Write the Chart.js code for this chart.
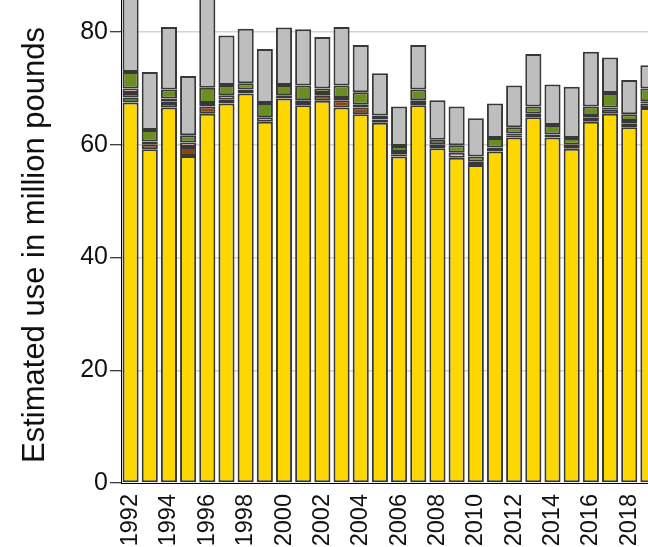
<!DOCTYPE html>
<html>
<head>
<meta charset="utf-8">
<script src="https://cdn.jsdelivr.net/npm/chart.js@4/dist/chart.umd.min.js"></script>
<style>
  html, body { margin: 0; padding: 0; overflow: hidden; background: #fff; width: 648px; height: 547px; }
  #wrap { position: absolute; left: 0; top: -15px; width: 658px; height: 562px; }
</style>
</head>
<body>
<div id="wrap"><canvas id="c"></canvas></div>
<script>
// Estimated use by year, million pounds, one array per stacked component
const years = ['1992','1993','1994','1995','1996','1997','1998','1999','2000','2001',
               '2002','2003','2004','2005','2006','2007','2008','2009','2010','2011',
               '2012','2013','2014','2015','2016','2017','2018','2019'];

const yellowUse = [67.5,59.2,66.6,58.0,65.5,67.3,69.1,64.1,68.2,67.0,67.8,66.6,65.4,63.9,57.9,67.0,59.4,57.7,56.4,58.8,61.3,64.9,61.3,59.3,64.1,65.5,63.1,66.5];
const greenUse  = [0.9,null,null,null,null,null,null,null,null,null,null,null,null,null,null,null,null,null,null,null,null,null,null,null,0.3,0.8,null,null];
const brownUse  = [0.8,0.9,0.8,1.6,1.3,0.7,null,null,null,null,0.9,1.3,1.2,null,null,null,null,null,null,null,null,null,null,null,0.4,null,0.7,0.8];
const blackUse  = [null,null,0.3,null,null,null,null,null,null,0.4,null,null,null,null,0.4,0.4,0.7,null,null,null,0.3,null,null,null,0.3,null,null,0.4];
const pinkUse   = [0.8,0.5,0.5,0.8,0.6,0.8,0.7,0.8,0.6,0.5,0.5,0.4,0.5,0.6,0.4,0.5,null,0.9,0.6,0.7,0.4,0.6,0.5,0.7,null,0.3,0.4,null];
const oliveUse  = [2.9,2.0,1.6,1.3,2.7,1.8,1.1,2.5,1.8,2.6,0.8,2.2,2.2,0.7,1.1,1.9,0.8,1.3,0.9,1.7,1.1,1.3,1.7,1.2,1.7,2.6,1.2,2.3];
const grayUse   = [14.6,10.3,11.1,10.5,17.9,8.8,9.7,9.6,10.2,10.0,9.1,10.4,8.4,7.5,7.0,7.9,7.0,6.9,6.8,6.1,7.4,9.3,7.2,9.1,9.7,6.3,6.1,4.1];

const yTicks = [0, 20, 40, 60, 80];
const yTitle = 'Estimated use in million pounds';

const FONT = 'Liberation Sans, Arial, Helvetica, sans-serif';

function layer(data, color) {
  return {
    data: data,
    backgroundColor: color,
    borderColor: '#383838',
    borderWidth: 2,
    borderSkipped: false,
    barPercentage: 0.84,
    categoryPercentage: 1.0
  };
}

// fixed axis sizes, no extra label padding around the plot area
function noPad(s) {
  s.paddingTop = 0; s.paddingBottom = 0; s.paddingLeft = 0; s.paddingRight = 0;
}

// vertical axis title, placed a little below the plot's mid-height
const axisTitle = {
  id: 'axisTitle',
  afterDraw(chart) {
    const ctx = chart.ctx;
    ctx.save();
    ctx.translate(35, 260);
    ctx.rotate(-Math.PI / 2);
    ctx.font = '31px ' + FONT;
    ctx.fillStyle = '#111';
    ctx.textAlign = 'center';
    ctx.textBaseline = 'middle';
    ctx.fillText(yTitle, 0, 0);
    ctx.restore();
  }
};

new Chart(document.getElementById('c'), {
  type: 'bar',
  data: {
    labels: years,
    datasets: [
      layer(yellowUse, '#FFD700'),
      layer(greenUse, '#006400'),
      layer(brownUse, '#8B4513'),
      layer(blackUse, '#000000'),
      layer(pinkUse, '#FFB6C1'),
      layer(oliveUse, '#6B8E23'),
      layer(grayUse, '#BEBEBE')
    ]
  },
  plugins: [axisTitle],
  options: {
    responsive: true,
    maintainAspectRatio: false,
    animation: false,
    layout: { padding: 0 },
    plugins: { legend: { display: false }, tooltip: { enabled: false } },
    scales: {
      x: {
        stacked: true,
        afterFit: s => { s.height = 64; noPad(s); },
        grid: { display: false },
        border: { display: true, color: '#000', width: 1 },
        ticks: {
          autoSkip: false,
          maxRotation: 90,
          minRotation: 90,
          padding: 3,
          color: '#111',
          font: { family: FONT, size: 23.5 },
          callback: (v, i) => (i % 2 === 0 ? years[i] : '')
        }
      },
      y: {
        stacked: true,
        min: 0,
        max: 88.34,
        z: 1,
        afterFit: s => { s.width = 121; noPad(s); },
        afterBuildTicks: s => { s.ticks = yTicks.map(v => ({ value: v })); },
        grid: {
          color: c => (c.tick && c.tick.value === 0 ? 'rgba(0,0,0,0)' : 'rgba(205,205,205,0.85)'),
          lineWidth: 1.5,
          tickColor: '#000',
          tickWidth: 1,
          tickLength: 11
        },
        border: { display: true, color: '#000', width: 1 },
        ticks: {
          padding: 2,
          color: '#111',
          font: { family: FONT, size: 25 }
        }
      }
    }
  }
});
</script>
</body>
</html>
